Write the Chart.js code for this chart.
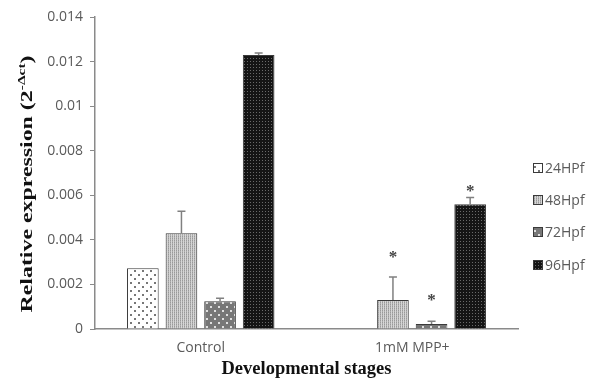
<!DOCTYPE html>
<html>
<head>
<meta charset="utf-8">
<script src="https://cdn.jsdelivr.net/npm/chart.js@4.4.0/dist/chart.umd.min.js"></script>
<style>
  html, body { margin: 0; padding: 0; background: #fff; }
  #wrap { width: 609px; height: 380px; }
</style>
</head>
<body>
<div id="wrap"><canvas id="myChart" width="609" height="380"></canvas></div>
<script>
// data
var categories = ['Control', '1mM MPP+'];
var seriesNames = ['24HPf', '48Hpf', '72Hpf', '96Hpf'];
var v24 = [0.00273, 0];
var v48 = [0.0043, 0.0013];
var v72 = [0.00125, 0.00022];
var v96 = [0.0123, 0.0056];
// upper error (sd) for each bar
var err24 = [0, 0];
var err48 = [0.00098, 0.00103];
var err72 = [0.00013, 0.00013];
var err96 = [0.00009, 0.0003];
// where the "*" marks sit (null = none)
var star24 = [null, null];
var star48 = [null, 0.00332];
var star72 = [null, 0.00139];
var star96 = [null, 0.0063];
var yTicks = [0, 0.002, 0.004, 0.006, 0.008, 0.01, 0.012, 0.014];

var greyText = '#5a5a5a';
var sansFont = "'Open Sans', 'Liberation Sans', sans-serif";
var serifFont = "'Liberation Serif', 'DejaVu Serif', serif";

// small tiles used as bar fills
function makePattern(size, bg, dots) {
    var c = document.createElement('canvas');
    c.width = size; c.height = size;
    var g = c.getContext('2d');
    g.fillStyle = bg;
    g.fillRect(0, 0, size, size);
    dots.forEach(function (d) {
        g.fillStyle = d[2];
        g.fillRect(d[0], d[1], d[3] || 1, d[3] || 1);
    });
    return g.createPattern(c, 'repeat');
}
var ctx = document.getElementById('myChart').getContext('2d');
var fills = [
    makePattern(8, '#ffffff', [[2, 2, '#777', 2], [6, 6, '#777', 2]]),
    makePattern(2, '#d6d6d6', [[0, 0, '#9a9a9a'], [0, 1, '#b0b0b0']]),
    makePattern(8, '#777777', [[2, 2, '#e0e0e0', 2], [6, 6, '#e0e0e0', 2]]),
    makePattern(3, '#151515', [[1, 1, '#6a6a6a']])
];
var values = [v24, v48, v72, v96];
var errors = [err24, err48, err72, err96];
var stars = [star24, star48, star72, star96];

var datasets = seriesNames.map(function (name, i) {
    return {
        label: name,
        data: values[i],
        errUp: errors[i],
        stars: stars[i],
        backgroundColor: fills[i],
        borderColor: '#3a3a3a',
        borderWidth: 1,
        borderSkipped: 'bottom',
        categoryPercentage: 0.73,
        barPercentage: 0.82
    };
});

// error bars, stars, y title with superscript and the legend
var extras = {
    id: 'extras',
    afterDatasetsDraw: function (chart) {
        var c = chart.ctx;
        var y = chart.scales.y;
        c.save();
        chart.data.datasets.forEach(function (ds, i) {
            var meta = chart.getDatasetMeta(i);
            meta.data.forEach(function (bar, j) {
                var e = ds.errUp[j];
                if (e > 0) {
                    var top = y.getPixelForValue(ds.data[j] + e);
                    c.strokeStyle = '#808080';
                    c.lineWidth = 1.5;
                    c.beginPath();
                    c.moveTo(bar.x, bar.y);
                    c.lineTo(bar.x, top);
                    c.moveTo(bar.x - 4, top);
                    c.lineTo(bar.x + 4, top);
                    c.stroke();
                }
                if (ds.stars[j] != null) {
                    c.fillStyle = '#444';
                    c.font = 'bold 17px ' + serifFont;
                    c.textAlign = 'center';
                    c.textBaseline = 'middle';
                    c.fillText('*', bar.x, y.getPixelForValue(ds.stars[j]) + 3);
                }
            });
        });
        c.restore();
    },
    afterDraw: function (chart) {
        var c = chart.ctx;
        c.save();
        // y axis title, stretched along its length like the original
        c.translate(28, 184);
        c.rotate(-Math.PI / 2);
        c.fillStyle = '#111';
        c.textBaseline = 'middle';
        c.textAlign = 'left';
        var main = 'Relative expression (2';
        var sup = '-\u0394ct';
        c.font = 'bold 17px ' + serifFont;
        var w1 = c.measureText(main).width;
        c.font = 'bold 11px ' + serifFont;
        var w2 = c.measureText(sup).width;
        c.font = 'bold 17px ' + serifFont;
        var w3 = c.measureText(')').width;
        var total = w1 + w2 + w3;
        c.scale(257 / total, 1);
        var start = -total / 2;
        c.fillText(main, start, 0);
        c.font = 'bold 11px ' + serifFont;
        c.fillText(sup, start + w1, -6);
        c.font = 'bold 17px ' + serifFont;
        c.fillText(')', start + w1 + w2, 0);
        c.restore();

        // legend
        c.save();
        var ly = [168, 200, 232, 265];
        chart.data.datasets.forEach(function (ds, i) {
            c.fillStyle = ds.backgroundColor;
            c.fillRect(533, ly[i] - 5, 10, 10);
            c.strokeStyle = '#3a3a3a';
            c.lineWidth = 1;
            c.strokeRect(533.5, ly[i] - 4.5, 9, 9);
            c.fillStyle = greyText;
            c.font = '14px ' + sansFont;
            c.textAlign = 'left';
            c.textBaseline = 'middle';
            c.fillText(ds.label, 545, ly[i] + 1);
        });
        c.restore();
    }
};

var chart = new Chart(ctx, {
    type: 'bar',
    data: {
        labels: categories,
        datasets: datasets
    },
    options: {
        responsive: false,
        animation: false,
        devicePixelRatio: 1,
        layout: { padding: { top: 17, right: 91, bottom: 0, left: 0 } },
        plugins: {
            legend: { display: false },
            tooltip: { enabled: false }
        },
        scales: {
            x: {
                afterFit: function (scale) { scale.height = 51; },
                grid: { display: false, drawTicks: false },
                border: { color: '#8a8a8a', width: 1.5 },
                ticks: { color: greyText, font: { size: 14, family: sansFont }, padding: 11 },
                title: {
                    display: true,
                    text: 'Developmental stages',
                    color: '#111',
                    font: { size: 18.5, weight: 'bold', family: serifFont },
                    padding: { top: 0, bottom: 0 }
                }
            },
            y: {
                min: 0,
                max: 0.014,
                afterBuildTicks: function (scale) {
                    scale.ticks = yTicks.map(function (v) { return { value: v }; });
                },
                afterFit: function (scale) { scale.width = 95; },
                grid: { display: true, drawOnChartArea: false, drawTicks: true, tickLength: 5, color: '#8a8a8a' },
                border: { color: '#8a8a8a', width: 1.5 },
                ticks: {
                    color: greyText,
                    font: { size: 14, family: sansFont },
                    padding: 7,
                    callback: function (v) { return String(Number(v.toFixed(3))); }
                }
            }
        }
    },
    plugins: [extras]
});
</script>
</body>
</html>
